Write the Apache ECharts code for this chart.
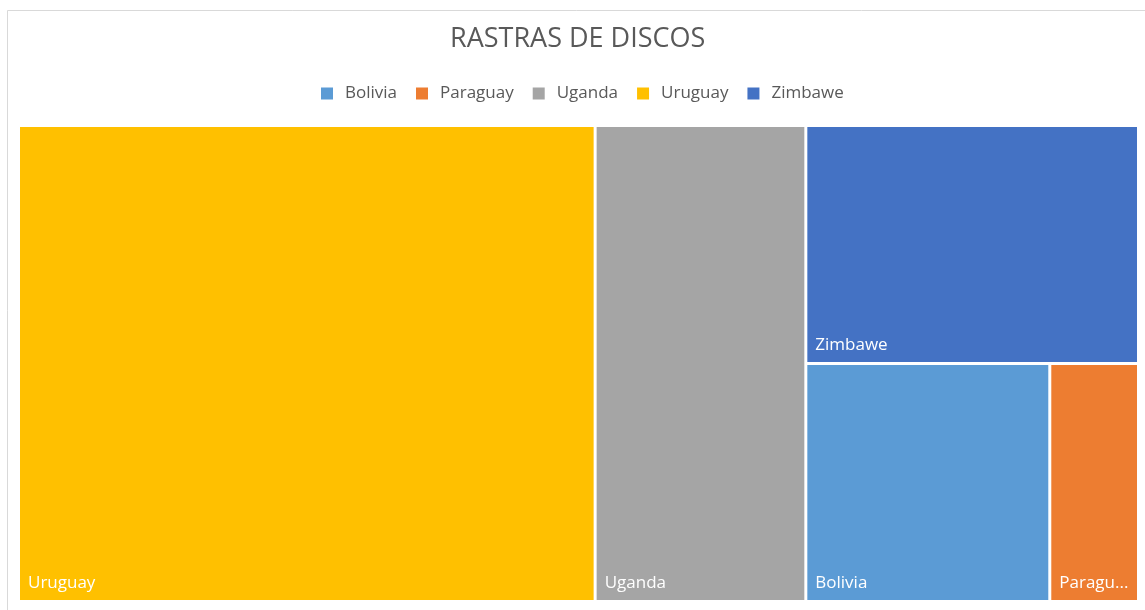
<!DOCTYPE html>
<html>
<head>
<meta charset="utf-8">
<script src="https://cdn.jsdelivr.net/npm/echarts@6/dist/echarts.min.js"></script>
<style>
html,body{margin:0;padding:0;background:#fff;}
#chart{width:1145px;height:610px;}
</style>
</head>
<body>
<div id="chart"></div>
<script>
const title = 'RASTRAS DE DISCOS';
const legendNames = ['Bolivia', 'Paraguay', 'Uganda', 'Uruguay', 'Zimbawe'];
const legendColors = ['#5B9BD5', '#ED7D31', '#A5A5A5', '#FFC000', '#4472C4'];
// top-level tiles
const topNames = ['Uruguay', 'Uganda'];
const topValues = [52, 19];
const topColors = ['#FFC000', '#A5A5A5'];
// right-hand group
const groupNames = ['Zimbawe', 'Bolivia', 'Paraguay'];
const groupValues = [15, 11, 4];
const groupColors = ['#4472C4', '#5B9BD5', '#ED7D31'];

const FONT = '"Open Sans", "Segoe UI", sans-serif';

const treeData = topNames.map((n, i) => ({
  name: n, value: topValues[i], itemStyle: { color: topColors[i] }
}));
treeData.push({
  name: '',
  itemStyle: { borderColor: '#fff', borderWidth: 0, gapWidth: 3 },
  children: groupNames.map((n, i) => {
    const item = { name: n, value: groupValues[i], itemStyle: { color: groupColors[i] } };
    if (n === 'Paraguay') item.label = { padding: [0, 14, 0, 0], overflow: 'truncate', ellipsis: '...' };
    return item;
  })
});

const chart = echarts.init(document.getElementById('chart'));
const dummySeries = legendNames.map((n, i) => ({
  type: 'scatter', name: n, data: [], itemStyle: { color: legendColors[i], opacity: 1 },
  xAxisIndex: 0, yAxisIndex: 0
}));

chart.setOption({
  backgroundColor: '#fff',
  animation: false,
  title: {
    text: title, left: 445, top: 21,
    textStyle: { fontFamily: FONT, fontSize: 27, fontWeight: 'normal', color: '#595959' }
  },
  legend: {
    data: legendNames, top: 80, left: 316, icon: 'rect',
    itemWidth: 12, itemHeight: 12, itemGap: 19,
    textStyle: { fontFamily: FONT, fontSize: 17, color: '#595959', padding: [0, 0, 0, 7] }
  },
  grid: { left: 0, top: 0, width: 1, height: 1, show: false },
  xAxis: { type: 'value', show: false },
  yAxis: { type: 'value', show: false },
  graphic: [{
    type: 'rect', left: 5, top: 8, silent: true, z: -10,
    shape: { width: 1160, height: 620 },
    style: { fill: 'none', stroke: '#D9D9D9', lineWidth: 1 }
  }],
  series: [{
    type: 'treemap',
    left: 20, top: 127, width: 1117, height: 473,
    roam: false, nodeClick: false, sort: false,
    breadcrumb: { show: false },
    squareRatio: 1,
    itemStyle: { borderWidth: 0, gapWidth: 3, borderColor: '#fff' },
    label: {
      show: true, position: 'insideBottomLeft', distance: 8, padding: 0,
      fontFamily: FONT, fontSize: 17, color: '#fff',
      overflow: 'truncate', ellipsis: '...'
    },
    upperLabel: { show: false },
    data: treeData
  }].concat(dummySeries)
});
</script>
</body>
</html>
